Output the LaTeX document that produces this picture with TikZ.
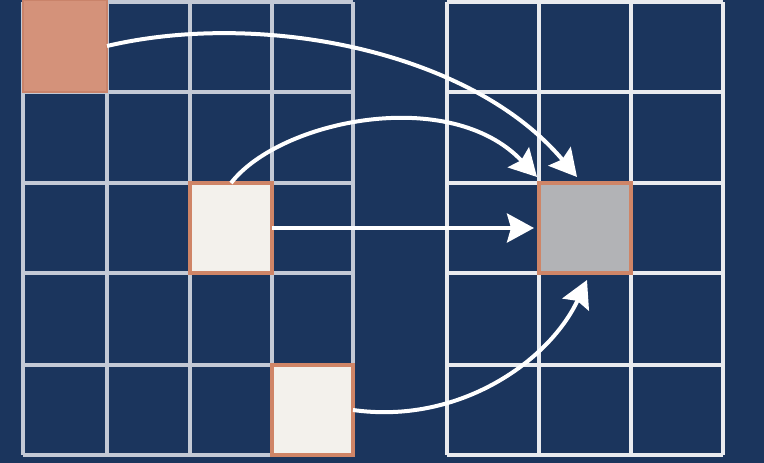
\documentclass[tikz,border=0pt]{standalone}
\usetikzlibrary{arrows.meta}
\definecolor{bgnavy}{HTML}{1B355D}
\definecolor{gridL}{HTML}{C3C9D5}
\definecolor{gridR}{HTML}{E9EBEF}
\definecolor{salmon}{HTML}{D4927A}
\definecolor{salmonedge}{HTML}{C9836A}
\definecolor{paper}{HTML}{F3F1EC}
\definecolor{rimorange}{HTML}{CF8567}
\definecolor{midgray}{HTML}{B2B3B6}
\tikzset{
  gl/.style={line width=3.6pt},
  cellbox/.style={inner sep=0pt, outer sep=0pt, line width=3.4pt},
  flow/.style={draw=white, line width=4pt, -{Stealth[length=27pt,width=29pt,inset=4pt]}},
}
\begin{document}
\begin{tikzpicture}[x=1pt,y=-1pt]
\fill[bgnavy] (0,0) rectangle (764,463);
\useasboundingbox (0,0) rectangle (764,463);
% left grid
\foreach \x in {23,107,190,272,353} \draw[gl,gridL] (\x,2) -- (\x,455);
\foreach \y in {2,92,183,273,365,455} \draw[gl,gridL] (23,\y) -- (353,\y);
% right grid
\foreach \x in {447,539,631,723} \draw[gl,gridR] (\x,2) -- (\x,455);
\foreach \y in {2,92,183,273,365,455} \draw[gl,gridR] (447,\y) -- (723,\y);
% cells
\node[cellbox, fill=salmon, draw=salmonedge, line width=1.5pt, minimum width=84pt, minimum height=92pt] (src1) at (65,46) {};
\node[cellbox, fill=paper, draw=rimorange, minimum width=82pt, minimum height=90pt] (src2) at (231,228) {};
\node[cellbox, fill=paper, draw=rimorange, minimum width=81pt, minimum height=90pt] (src3) at (312.5,410) {};
\node[cellbox, fill=midgray, draw=rimorange, minimum width=92pt, minimum height=90pt] (dst) at (585,228) {};
% arrow tips
\coordinate (t1) at (577,177);
\coordinate (t2) at (537,177);
\coordinate (t4) at (587,280);
% arrows
\draw[flow] (src1.east) .. controls (260,10) and (470,50) .. (t1);
\draw[flow] (src2.north) .. controls (280,120) and (450,85) .. (t2);
\draw[flow, shorten >=5pt] (src2.east) -- (dst.west);
\draw[flow] (src3.east) .. controls (460,425) and (550,360) .. (t4);
\end{tikzpicture}
\end{document}
